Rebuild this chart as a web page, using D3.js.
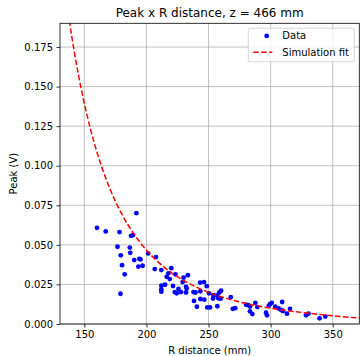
<!DOCTYPE html>
<html>
  <head>
    <meta charset="UTF-8" />
    <title></title>
    <script src="https://cdn.jsdelivr.net/npm/d3@7"></script>
    <style>
      body { margin: 0; background: #fff; }
      svg { display: block; font-family: 'DejaVu Sans', sans-serif; }
    </style>
  </head>
  <body>
    <svg></svg>
    <script>
      // measured data (R in mm, peak in V)
      const dataR = [
        160.2, 167.2, 178.3, 191.9, 176.7, 186.6, 187.6, 189.2, 179.3, 187.0,
        180.4, 190.2, 182.5, 194.3, 195.2, 193.5, 196.9, 179.1, 201.4, 207.7,
        206.7, 212.0, 215.0, 212.0, 212.0, 212.0, 216.3, 217.6, 218.8, 220.0,
        221.4, 222.8, 224.4, 223.3, 225.8, 227.9, 229.2, 229.9, 233.3, 231.9,
        232.4, 231.9, 237.9, 239.5, 238.3, 240.6, 243.2, 246.4, 248.6, 243.4,
        243.4, 246.6, 249.0, 251.2, 250.4, 253.9, 253.6, 256.8, 258.7, 260.1,
        257.1, 257.8, 259.8, 267.9, 269.5, 271.5, 280.2, 282.0, 283.4, 283.4,
        285.3, 287.7, 289.3, 296.3, 297.1, 298.5, 299.5, 300.9, 303.7, 306.5,
        308.5, 310.0, 309.3, 313.2, 315.6, 328.5, 330.5, 339.4, 344.0
      ];
      const dataPeak = [
        0.0608, 0.0585, 0.0581, 0.0700, 0.0488, 0.0483, 0.0557, 0.0562, 0.0434, 0.0450,
        0.0372, 0.0404, 0.0314, 0.0412, 0.0408, 0.0363, 0.0368, 0.0191, 0.0446, 0.0423,
        0.0347, 0.0341, 0.0248, 0.0242, 0.0219, 0.0204, 0.0298, 0.0320, 0.0284, 0.0353,
        0.0240, 0.0202, 0.0194, 0.0314, 0.0221, 0.0202, 0.0265, 0.0293, 0.0308, 0.0235,
        0.0224, 0.0199, 0.0202, 0.0199, 0.0146, 0.0109, 0.0262, 0.0265, 0.0239, 0.0207,
        0.0158, 0.0154, 0.0105, 0.0105, 0.0194, 0.0183, 0.0161, 0.0180, 0.0199, 0.0210,
        0.0112, 0.0162, 0.0160, 0.0169, 0.0096, 0.0100, 0.0122, 0.0119, 0.0110, 0.0080,
        0.0063, 0.0134, 0.0107, 0.0071, 0.0055, 0.0115, 0.0126, 0.0134, 0.0110, 0.0098,
        0.0088, 0.0082, 0.0139, 0.0065, 0.0096, 0.0055, 0.0066, 0.0036, 0.0047
      ];

      // simulation fit
      const fitR = [132, 138, 145, 150, 160, 170, 180, 190, 200, 210, 220, 230, 240, 250, 260, 280, 300, 320, 340, 360, 372];
      const fitPeak = [0.2265, 0.1913, 0.1585, 0.1393, 0.1090, 0.0866, 0.0697, 0.0568, 0.0467, 0.0388, 0.0325, 0.0275, 0.0234, 0.0200, 0.0172, 0.0130, 0.0100, 0.0078, 0.0060, 0.0045, 0.0037];

      const xTicks = [150, 200, 250, 300, 350];
      const yTicks = [0, 0.025, 0.05, 0.075, 0.1, 0.125, 0.15, 0.175];

      const width = 360;
      const height = 356;
      const margin = { top: 23.3, right: 0.7, bottom: 32, left: 60 };

      const svg = d3
        .select('svg')
        .attr('width', width)
        .attr('height', height);

      const x = d3
        .scaleLinear()
        .domain([130.4, 371.4])
        .range([margin.left, width - margin.right]);
      const y = d3
        .scaleLinear()
        .domain([0, 0.19])
        .range([height - margin.bottom, margin.top]);

      svg.append('defs')
        .append('clipPath')
        .attr('id', 'plot')
        .append('rect')
        .attr('x', margin.left)
        .attr('y', margin.top)
        .attr('width', width - margin.left - margin.right)
        .attr('height', height - margin.top - margin.bottom);

      // grid
      const grid = svg.append('g').attr('stroke', '#b0b0b0').attr('stroke-width', 0.8);
      grid.selectAll('.gx')
        .data(xTicks)
        .join('line')
        .attr('x1', (d) => x(d))
        .attr('x2', (d) => x(d))
        .attr('y1', y.range()[0])
        .attr('y2', y.range()[1]);
      grid.selectAll('.gy')
        .data(yTicks)
        .join('line')
        .attr('x1', x.range()[0])
        .attr('x2', x.range()[1])
        .attr('y1', (d) => y(d))
        .attr('y2', (d) => y(d));

      // points
      const pts = dataR.map((r, i) => [r, dataPeak[i]]);
      svg.append('g')
        .attr('clip-path', 'url(#plot)')
        .attr('fill', '#0000ff')
        .selectAll('circle')
        .data(pts)
        .join('circle')
        .attr('cx', (d) => x(d[0]))
        .attr('cy', (d) => y(d[1]))
        .attr('r', 2.4);

      // fit line
      const line = d3
        .line()
        .curve(d3.curveMonotoneX)
        .x((d) => x(d[0]))
        .y((d) => y(d[1]));
      svg.append('path')
        .attr('clip-path', 'url(#plot)')
        .datum(fitR.map((r, i) => [r, fitPeak[i]]))
        .attr('fill', 'none')
        .attr('stroke', '#ff0000')
        .attr('stroke-width', 1.5)
        .attr('stroke-dasharray', '5.5,2.4')
        .attr('d', line);

      // axes
      const xAxis = svg.append('g')
        .attr('transform', `translate(0,${y.range()[0]})`)
        .call(d3.axisBottom(x).tickValues(xTicks).tickSize(3.5).tickPadding(3.5).tickFormat(d3.format('d')));
      const yAxis = svg.append('g')
        .attr('transform', `translate(${x.range()[0]},0)`)
        .call(d3.axisLeft(y).tickValues(yTicks).tickSize(3.5).tickPadding(3.5).tickFormat(d3.format('.3f')));
      [xAxis, yAxis].forEach((g) => {
        g.select('.domain').remove();
        g.selectAll('line').attr('stroke', '#000').attr('stroke-width', 0.8);
        g.selectAll('text').attr('font-size', 10).attr('fill', '#000').attr('font-family', 'DejaVu Sans');
      });

      // frame
      svg.append('rect')
        .attr('x', x.range()[0])
        .attr('y', y.range()[1])
        .attr('width', x.range()[1] - x.range()[0])
        .attr('height', y.range()[0] - y.range()[1])
        .attr('fill', 'none')
        .attr('stroke', '#000')
        .attr('stroke-width', 0.8);

      // labels
      svg.append('text')
        .attr('x', (x.range()[0] + x.range()[1]) / 2)
        .attr('y', 17)
        .attr('text-anchor', 'middle')
        .attr('font-size', 12)
        .text('Peak x R distance, z = 466 mm');
      svg.append('text')
        .attr('x', (x.range()[0] + x.range()[1]) / 2)
        .attr('y', 353.5)
        .attr('text-anchor', 'middle')
        .attr('font-size', 10)
        .text('R distance (mm)');
      svg.append('text')
        .attr('transform', `translate(17,${(y.range()[0] + y.range()[1]) / 2}) rotate(-90)`)
        .attr('text-anchor', 'middle')
        .attr('font-size', 10)
        .text('Peak (V)');

      // legend
      const legend = svg.append('g').attr('transform', 'translate(248.3,28.3)');
      legend.append('rect')
        .attr('width', 106)
        .attr('height', 33.4)
        .attr('rx', 2)
        .attr('fill', 'rgba(255,255,255,0.8)')
        .attr('stroke', '#cccccc')
        .attr('stroke-width', 0.8);
      legend.append('circle')
        .attr('cx', 18.4)
        .attr('cy', 7.6)
        .attr('r', 2.4)
        .attr('fill', '#0000ff');
      legend.append('line')
        .attr('x1', 5)
        .attr('x2', 24)
        .attr('y1', 24)
        .attr('y2', 24)
        .attr('stroke', '#ff0000')
        .attr('stroke-width', 1.5)
        .attr('stroke-dasharray', '5.5,2.4');
      legend.append('text')
        .attr('x', 34)
        .attr('y', 11.2)
        .attr('font-size', 10)
        .text('Data');
      legend.append('text')
        .attr('x', 34)
        .attr('y', 27.6)
        .attr('font-size', 10)
        .text('Simulation fit');
    </script>
  </body>
</html>
